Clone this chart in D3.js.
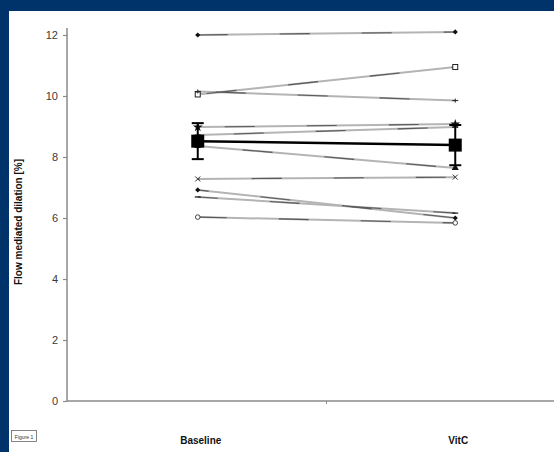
<!DOCTYPE html>
<html><head><meta charset="utf-8">
<script src="https://cdn.jsdelivr.net/npm/d3@7"></script>
<style>html,body{margin:0;padding:0;background:#00336a;}svg{display:block;}</style>
</head><body>
<svg id="chart" width="554" height="452"></svg>
<script>
const categories = ["Baseline", "VitC"];
const baseline = [12.0, 10.05, 10.15, 8.98, 8.72, 8.36, 7.28, 6.92, 6.69, 6.03];
const vitc     = [12.1, 10.95, 9.85, 9.08, 8.98, 7.64, 7.34, 6.0, 6.16, 5.84];
const markers  = ["diamondFill", "squareOpen", "plus", "starFill", "dash", "triangleFill", "cross", "diamondFill", "dash", "circleOpen"];
const meanValues = [8.52, 8.39];
const errValues  = [0.59, 0.66];
const yTicks = [0, 2, 4, 6, 8, 10, 12];
const yLabel = "Flow mediated dilation [%]";

const svg = d3.select("#chart");
svg.append("rect").attr("x", 9).attr("y", 11).attr("width", 545).attr("height", 441).attr("fill", "#fff");

const x = d3.scaleBand().domain(categories).range([69, 584]).padding(0);
const cx = c => x(c) + x.bandwidth() / 2;
const y = d3.scaleLinear().domain([0, 12]).range([401, 35]);

// y axis
const yAxis = d3.axisLeft(y).tickValues(yTicks).tickSize(4).tickPadding(5);
const gy = svg.append("g").attr("transform", "translate(67,0)").call(yAxis);
gy.select(".domain").attr("d", "M0,28V401").attr("stroke", "#8a8a8a").attr("stroke-width", 1.5);
gy.selectAll(".tick line").attr("stroke", "#8a8a8a").attr("stroke-width", 1.2);
gy.selectAll(".tick text").attr("fill", "#3a3a3a").attr("font-family", "Liberation Sans, Arial, sans-serif").attr("font-size", 11);

// x axis
const xAxis = d3.axisBottom(x).tickSize(0).tickFormat("");
const gx = svg.append("g").attr("transform", "translate(0,401)").call(xAxis);
gx.select(".domain").attr("d", "M67,0H554").attr("stroke", "#8a8a8a").attr("stroke-width", 1.5);
gx.append("line").attr("x1", x("VitC")).attr("x2", x("VitC")).attr("y1", 0).attr("y2", 3).attr("stroke", "#8a8a8a");

// category labels
svg.selectAll("text.cat").data(categories).enter().append("text").attr("class", "cat")
  .attr("x", d => cx(d) + 3).attr("y", 444).attr("text-anchor", "middle")
  .attr("font-family", "Liberation Sans, Arial, sans-serif").attr("font-weight", "bold").attr("font-size", 10).attr("fill", "#111")
  .text(d => d);

// y label
svg.append("text").attr("transform", "translate(22,222) rotate(-90)").attr("text-anchor", "middle")
  .attr("font-family", "Liberation Sans, Arial, sans-serif").attr("font-weight", "bold").attr("font-size", 10).attr("fill", "#111")
  .text(yLabel);

// Figure 1 box
svg.append("rect").attr("x", 11.5).attr("y", 430.5).attr("width", 25).attr("height", 11).attr("fill", "#fff").attr("stroke", "#666").attr("stroke-width", 0.8);
svg.append("text").attr("x", 24).attr("y", 438.5).attr("text-anchor", "middle").attr("font-family", "Liberation Sans, Arial, sans-serif").attr("font-size", 5).attr("fill", "#333").text("Figure 1");

// subject lines
const subjects = baseline.map((b, i) => ({vals: [b, vitc[i]], marker: markers[i]}));
const line = d3.line().x((d, j) => cx(categories[j])).y(d => y(d));
const gs = svg.append("g");
gs.selectAll("path.base").data(subjects).enter().append("path")
  .attr("d", d => line(d.vals)).attr("fill", "none").attr("stroke", "#b4b4b4").attr("stroke-width", 2);
gs.selectAll("path.over").data(subjects).enter().append("path")
  .attr("d", d => line(d.vals)).attr("fill", "none").attr("stroke", "#5a5a5a").attr("stroke-width", 1.1)
  .attr("stroke-dasharray", "30,52").attr("stroke-dashoffset", (d, i) => -i * 9);

function drawMarker(g, type, px, py) {
  const s = 2.6;
  if (type === "diamondFill") g.append("path").attr("d", `M${px},${py-s}L${px+s},${py}L${px},${py+s}L${px-s},${py}Z`).attr("fill", "#111");
  else if (type === "squareOpen") g.append("rect").attr("x", px-2.5).attr("y", py-2.5).attr("width", 5).attr("height", 5).attr("fill", "#fff").attr("stroke", "#222").attr("stroke-width", 1);
  else if (type === "plus") g.append("path").attr("d", `M${px-3},${py}H${px+3}M${px},${py-2}V${py+2}`).attr("stroke", "#222").attr("stroke-width", 1);
  else if (type === "starFill") g.append("path").attr("d", d3.symbol(d3.symbolStar, 30)()).attr("transform", `translate(${px},${py})`).attr("fill", "#111");
  else if (type === "dash") g.append("path").attr("d", `M${px-3},${py}H${px+3}`).attr("stroke", "#222").attr("stroke-width", 1.3);
  else if (type === "triangleFill") g.append("path").attr("d", d3.symbol(d3.symbolTriangle, 22)()).attr("transform", `translate(${px},${py})`).attr("fill", "#111");
  else if (type === "cross") g.append("path").attr("d", `M${px-2.5},${py-2.5}L${px+2.5},${py+2.5}M${px-2.5},${py+2.5}L${px+2.5},${py-2.5}`).attr("stroke", "#333").attr("stroke-width", 1);
  else if (type === "circleOpen") g.append("circle").attr("cx", px).attr("cy", py).attr("r", 2.3).attr("fill", "#fff").attr("stroke", "#444").attr("stroke-width", 1);
}
subjects.forEach(s => s.vals.forEach((v, j) => drawMarker(gs, s.marker, cx(categories[j]), y(v))));

// mean line with error bars
const gm = svg.append("g");
gm.append("path").attr("d", line(meanValues)).attr("fill", "none").attr("stroke", "#000").attr("stroke-width", 2.5);
meanValues.forEach((m, j) => {
  const px = cx(categories[j]);
  gm.append("line").attr("x1", px).attr("x2", px).attr("y1", y(m + errValues[j])).attr("y2", y(m - errValues[j])).attr("stroke", "#000").attr("stroke-width", 2);
  [m + errValues[j], m - errValues[j]].forEach(v => gm.append("line").attr("x1", px - 6).attr("x2", px + 6).attr("y1", y(v)).attr("y2", y(v)).attr("stroke", "#000").attr("stroke-width", 2));
  gm.append("rect").attr("x", px - 6.5).attr("y", y(m) - 6.5).attr("width", 13).attr("height", 13).attr("fill", "#000");
});
</script>
</body></html>
